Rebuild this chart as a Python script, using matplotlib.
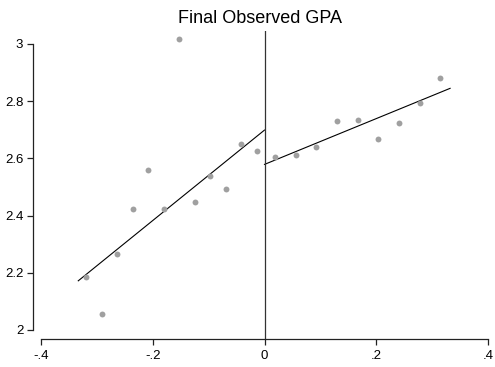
import numpy as np
import matplotlib.pyplot as plt

plt.rcParams['font.family'] = ['Liberation Sans', 'DejaVu Sans']

# binned means, left of the cutoff
left_x = [-0.3194, -0.2917, -0.2639, -0.2361, -0.2083, -0.1806,
          -0.1528, -0.1250, -0.0972, -0.0694, -0.0417, -0.0139]
left_y = [2.184, 2.057, 2.266, 2.424, 2.560, 2.424,
          3.017, 2.447, 2.537, 2.493, 2.650, 2.626]

# binned means, right of the cutoff
right_x = [0.0185, 0.0556, 0.0926, 0.1296, 0.1667, 0.2037, 0.2407, 0.2778, 0.3148]
right_y = [2.605, 2.612, 2.641, 2.731, 2.735, 2.669, 2.724, 2.794, 2.880]

# linear fits on each side
left_fit_x = [-0.3333, 0.0]
left_fit_y = [2.172, 2.699]
right_fit_x = [0.0, 0.3322]
right_fit_y = [2.579, 2.845]

x_ticks = [-0.4, -0.2, 0.0, 0.2, 0.4]
x_labels = ['-.4', '-.2', '0', '.2', '.4']
y_ticks = [2.0, 2.2, 2.4, 2.6, 2.8, 3.0]
y_labels = ['2', '2.2', '2.4', '2.6', '2.8', '3']

W, H = 495, 367
fig = plt.figure(figsize=(W / 100, H / 100), dpi=100)
# axes box in pixels: left 33, right 488, bottom 339, top 31
ax = fig.add_axes([33 / W, (H - 339) / H, (488 - 33) / W, (339 - 31) / H])

px_x = 0.2 / 111.75   # data units per pixel
px_y = 1.0 / 286.0
ax.set_xlim(-0.4 - 8 * px_x, 0.4)
ax.set_ylim(2.0 - 9 * px_y, 3.0 + 13 * px_y)

ax.scatter(left_x, left_y, s=18, color='#a0a0a0', linewidths=0, zorder=3)
ax.scatter(right_x, right_y, s=18, color='#a0a0a0', linewidths=0, zorder=3)
ax.plot(left_fit_x, left_fit_y, color='black', lw=0.8)
ax.plot(right_fit_x, right_fit_y, color='black', lw=0.8)
ax.axvline(0, color='#333333', lw=0.9)

for side in ['top', 'right']:
    ax.spines[side].set_visible(False)
ax.spines['left'].set_bounds(2.0, 3.0)
ax.spines['bottom'].set_bounds(-0.4, 0.4)
for side in ['left', 'bottom']:
    ax.spines[side].set_linewidth(0.9)
    ax.spines[side].set_color('#222222')

ax.set_xticks(x_ticks, labels=x_labels)
ax.set_yticks(y_ticks, labels=y_labels)
ax.tick_params(axis='both', length=4, width=0.9, color='#222222',
               labelsize=9.5, pad=3)
ax.tick_params(axis='x', pad=4)

ax.set_title('Final Observed GPA', fontsize=13, pad=6)

fig.savefig('out.png', dpi=100)
